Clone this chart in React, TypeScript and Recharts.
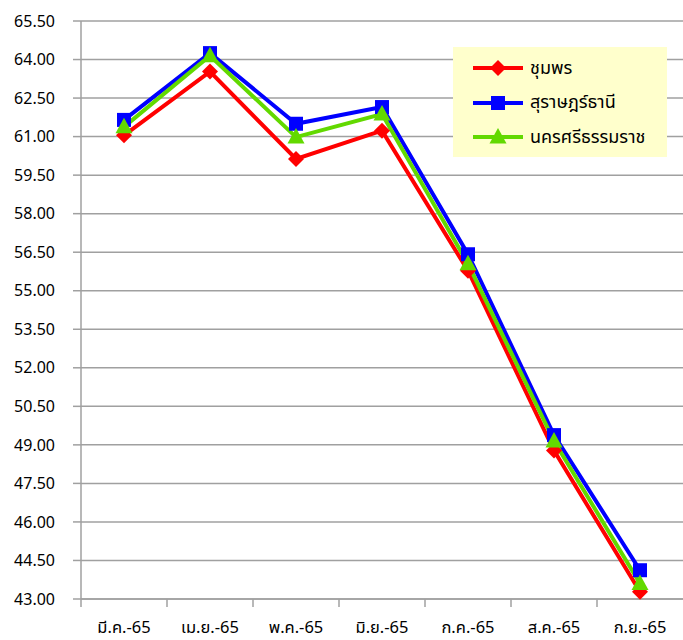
import { LineChart, Line, XAxis, YAxis, CartesianGrid } from 'recharts'

const months = ['มี.ค.-65', 'เม.ย.-65', 'พ.ค.-65', 'มิ.ย.-65', 'ก.ค.-65', 'ส.ค.-65', 'ก.ย.-65']
const chumphon = [61.05, 63.53, 60.13, 61.23, 55.78, 48.78, 43.28]
const suratThani = [61.65, 64.25, 61.5, 62.15, 56.42, 49.38, 44.12]
const nakhonSi = [61.38, 64.15, 60.98, 61.88, 56.05, 49.15, 43.6]
const yTicks = [43, 44.5, 46, 47.5, 49, 50.5, 52, 53.5, 55, 56.5, 58, 59.5, 61, 62.5, 64, 65.5]

const FONT = 'Tahoma, "Noto Sans Thai", "Noto Sans", "DejaVu Sans", sans-serif'
const CHART_W = 683
const PLOT_LEFT = 81

const series = [
  { key: 'chumphon', name: 'ชุมพร', color: '#ff0000', shape: 'diamond' },
  { key: 'surat', name: 'สุราษฎร์ธานี', color: '#0000ff', shape: 'square' },
  { key: 'nakhon', name: 'นครศรีธรรมราช', color: '#62d900', shape: 'triangle' },
]

const data = months.map((m, i) => ({
  month: m,
  chumphon: chumphon[i],
  surat: suratThani[i],
  nakhon: nakhonSi[i],
}))

// eslint-disable-next-line @typescript-eslint/no-explicit-any
function Marker({ cx, cy, fill, shape }: any) {
  if (cx == null || cy == null) return null
  if (shape === 'square') {
    return <rect x={cx - 7} y={cy - 7} width={14} height={14} fill={fill} />
  }
  if (shape === 'triangle') {
    return <polygon points={`${cx},${cy - 9} ${cx + 8.5},${cy + 6.5} ${cx - 8.5},${cy + 6.5}`} fill={fill} />
  }
  return <polygon points={`${cx},${cy - 8} ${cx + 8},${cy} ${cx},${cy + 8} ${cx - 8},${cy}`} fill={fill} />
}

// excel style: tick mark at the left edge of each category, label in the middle
// eslint-disable-next-line @typescript-eslint/no-explicit-any
function MonthTick({ x, y, payload }: any) {
  const half = (CHART_W - PLOT_LEFT) / months.length / 2
  return (
    <g>
      <line x1={x - half} y1={y - 8} x2={x - half} y2={y} stroke="#a0a0a0" strokeWidth={1.5} />
      <text x={x} y={y + 26} textAnchor="middle" fill="#000" fontSize={16.5} fontFamily={FONT}>
        {payload.value}
      </text>
    </g>
  )
}

function LegendBox() {
  return (
    <div
      style={{
        position: 'absolute',
        left: 453,
        top: 47,
        background: '#ffffcc',
        width: 214,
        height: 110,
        boxSizing: 'border-box',
        padding: '4px 0 0 20px',
        fontFamily: FONT,
        fontSize: 18,
        color: '#000',
      }}
    >
      {series.map((s) => (
        <div key={s.key} style={{ display: 'flex', alignItems: 'center', height: 34.5 }}>
          <svg width={52} height={20} style={{ marginRight: 5 }}>
            <line x1={0} y1={10} x2={50} y2={10} stroke={s.color} strokeWidth={4} />
            <Marker cx={25} cy={10} fill={s.color} shape={s.shape} />
          </svg>
          <span>{s.name}</span>
        </div>
      ))}
    </div>
  )
}

export default function App() {
  return (
    <div style={{ position: 'absolute', left: 0, top: 0, width: 683, height: 640, background: '#fff' }}>
      <LineChart width={CHART_W} height={640} data={data} margin={{ top: 21, right: 0, bottom: 0, left: 0 }}>
        <CartesianGrid vertical={false} stroke="#a0a0a0" strokeWidth={1.5} />
        <XAxis
          dataKey="month"
          scale="band"
          height={41}
          tickLine={false}
          stroke="#a0a0a0"
          strokeWidth={1.5}
          tick={<MonthTick />}
          interval={0}
        />
        <YAxis
          type="number"
          domain={[43, 65.5]}
          ticks={yTicks}
          interval={0}
          width={PLOT_LEFT}
          tickSize={8}
          tickMargin={18}
          stroke="#a0a0a0"
          strokeWidth={1.5}
          tickFormatter={(v: number) => v.toFixed(2)}
          tick={{ fill: '#000', fontSize: 16, fontFamily: FONT }}
        />
        {series.map((s) => (
          <Line
            key={s.key}
            dataKey={s.key}
            name={s.name}
            stroke={s.color}
            strokeWidth={4}
            isAnimationActive={false}
            dot={(p: any) => <Marker key={`${s.key}-${p.index}`} cx={p.cx} cy={p.cy} fill={s.color} shape={s.shape} />}
            activeDot={false}
          />
        ))}
      </LineChart>
      <LegendBox />
    </div>
  )
}
